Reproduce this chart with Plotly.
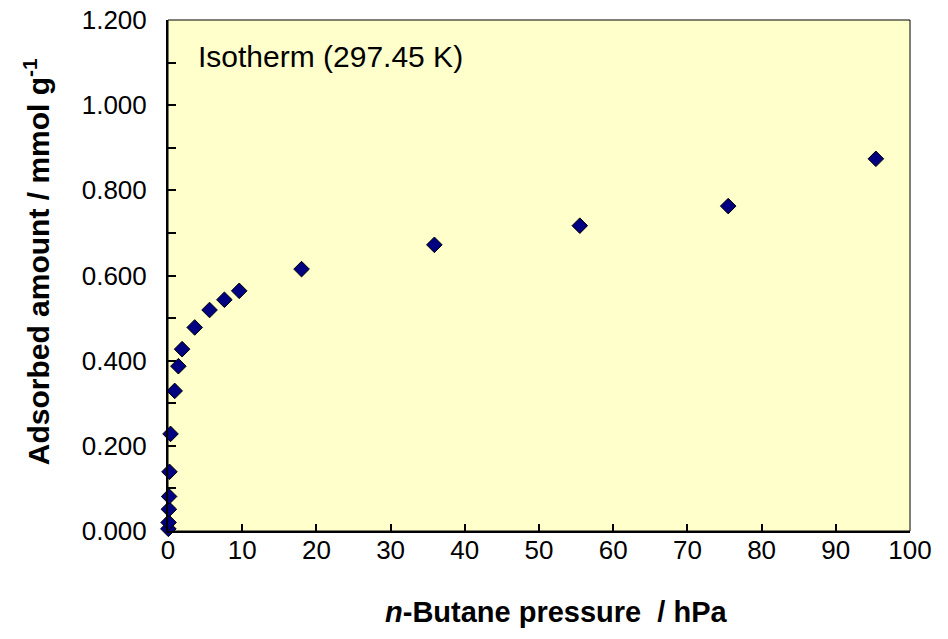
import plotly.graph_objects as go

pressure_hPa = [0.05, 0.08, 0.12, 0.15, 0.2, 0.34, 0.9, 1.4, 1.9, 3.6, 5.6, 7.6, 9.6,
                18.0, 35.9, 55.5, 75.5, 95.4]
adsorbed_mmol_g = [0.005, 0.02, 0.051, 0.081, 0.139, 0.228, 0.329, 0.387, 0.427, 0.478,
                   0.519, 0.543, 0.564, 0.615, 0.672, 0.717, 0.763, 0.874]

x_ticks = list(range(0, 101, 10))
y_ticks = [0.0, 0.2, 0.4, 0.6, 0.8, 1.0, 1.2]
y_tick_labels = ["0.000", "0.200", "0.400", "0.600", "0.800", "1.000", "1.200"]

x_title = "<b><i>n</i>-Butane pressure  / hPa</b>"
y_title = "<b>Adsorbed amount / mmol g<sup>-1</sup></b>"
note = "Isotherm (297.45 K)"

font_family = "Liberation Sans, Arial, sans-serif"

fig = go.Figure()
fig.add_trace(go.Scatter(
    x=pressure_hPa, y=adsorbed_mmol_g, mode="markers",
    marker=dict(symbol="diamond", size=12, color="#000080",
                line=dict(color="black", width=1)),
    cliponaxis=False, showlegend=False,
))

fig.update_layout(
    width=948, height=639,
    margin=dict(l=168, r=38, t=20, b=108),
    paper_bgcolor="white", plot_bgcolor="#FFFFCC",
    font=dict(family=font_family, size=26, color="black"),
    xaxis=dict(range=[0, 100], tickvals=x_ticks, ticks="inside", ticklen=7,
               tickwidth=2, tickcolor="black", showgrid=False, zeroline=False,
               showline=True, linecolor="black", linewidth=2, automargin=False,
               ticklabelstandoff=-5, tickfont=dict(size=26)),
    yaxis=dict(range=[0, 1.2], tickvals=y_ticks, ticktext=y_tick_labels,
               ticks="inside", ticklen=8, tickwidth=2, tickcolor="black",
               minor=dict(dtick=0.1, tick0=0, ticks="inside", ticklen=8,
                          tickwidth=2, tickcolor="black"),
               showgrid=False, zeroline=False, showline=True, automargin=False,
               linecolor="black", linewidth=2, ticklabelstandoff=14,
               tickfont=dict(size=26)),
    shapes=[dict(type="rect", xref="paper", yref="paper", x0=0, y0=0, x1=1, y1=1,
                 line=dict(color="black", width=1), fillcolor="rgba(0,0,0,0)",
                 layer="below")],
    annotations=[
        dict(text=note, xref="paper", yref="paper",
             x=0.038, y=0.928, xanchor="left", yanchor="middle",
             showarrow=False, font=dict(size=30)),
        dict(text=x_title, xref="paper", yref="paper",
             x=0.524, y=-0.1585, xanchor="center", yanchor="middle",
             showarrow=False, font=dict(size=29)),
        dict(text=y_title, xref="paper", yref="paper", textangle=-90,
             x=-0.1765, y=0.526, xanchor="center", yanchor="middle",
             showarrow=False, font=dict(size=30)),
    ],
)

fig.write_html("out.html")
